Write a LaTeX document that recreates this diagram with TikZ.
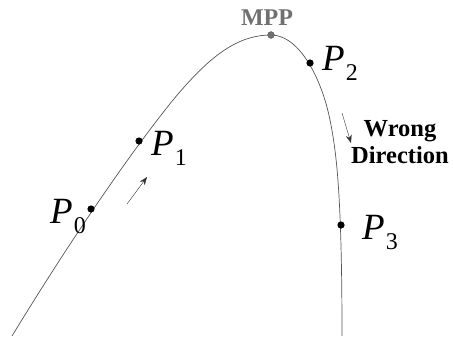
\documentclass[tikz,border=0pt]{standalone}
\usepackage{fontspec}
\setmainfont{Liberation Serif}
\usepackage{xcolor}
\usepackage{tikz}
\usetikzlibrary{arrows.meta}

\definecolor{curvegray}{HTML}{555555}
\definecolor{mppgray}{HTML}{707070}

\newcommand{\ptlabel}[1]{{\fontsize{37}{37}\selectfont\itshape P}\kern1pt\raisebox{-10pt}{\fontsize{24}{24}\selectfont #1}}

\begin{document}
\begin{tikzpicture}[x=1pt, y=-1pt,
  dot/.style={fill=black},
  plabel/.style={anchor=base west, inner sep=0pt},
  boldlabel/.style={font=\fontsize{24.5}{24.5}\selectfont\bfseries, inner sep=0pt},
  dirarrow/.style={-{Stealth[length=8pt,width=6pt]}, thin, black!80}]
  \useasboundingbox (0,0) rectangle (453,338);
  % P-V curve
  \coordinate (mpp) at (271,35);
  \draw[curvegray, line width=0.7pt] (12,336)
    .. controls (62,254) and (123,162) .. (173,100)
    .. controls (208,58) and (236,35) .. (mpp)
    .. controls (300,35) and (322,80) .. (330,120)
    .. controls (336,150) and (342,190) .. (342,336);
  % Operating points
  \coordinate (p0) at (91,209);
  \coordinate (p1) at (139,141);
  \coordinate (p2) at (310,63);
  \coordinate (p3) at (341,225);
  \foreach \p in {p0,p1,p2,p3}
    \fill[dot] (\p) circle (3.6pt);
  \filldraw[fill=mppgray, draw=curvegray] (mpp) circle (3.4pt);
  % Labels
  \node[plabel] (lp0) at (50,223) {\ptlabel{0}};
  \node[plabel] (lp1) at (151,155) {\ptlabel{1}};
  \node[plabel] (lp2) at (322,70) {\ptlabel{2}};
  \node[plabel] (lp3) at (362,239) {\ptlabel{3}};
  \node[font=\fontsize{24}{24}\selectfont\bfseries, inner sep=0pt, text=mppgray, anchor=base] (lmpp) at (267,25) {MPP};
  \node[boldlabel, anchor=base] (lwrong) at (400,136) {Wrong};
  \node[boldlabel, anchor=base] (ldir) at (400,163) {Direction};
  % Direction arrows
  \coordinate (upA) at (127,204);
  \coordinate (upB) at (147,177);
  \coordinate (dnA) at (342,113);
  \coordinate (dnB) at (351,143);
  \draw[dirarrow] (upA) -- (upB);
  \draw[dirarrow] (dnA) -- (dnB);
\end{tikzpicture}
\end{document}
